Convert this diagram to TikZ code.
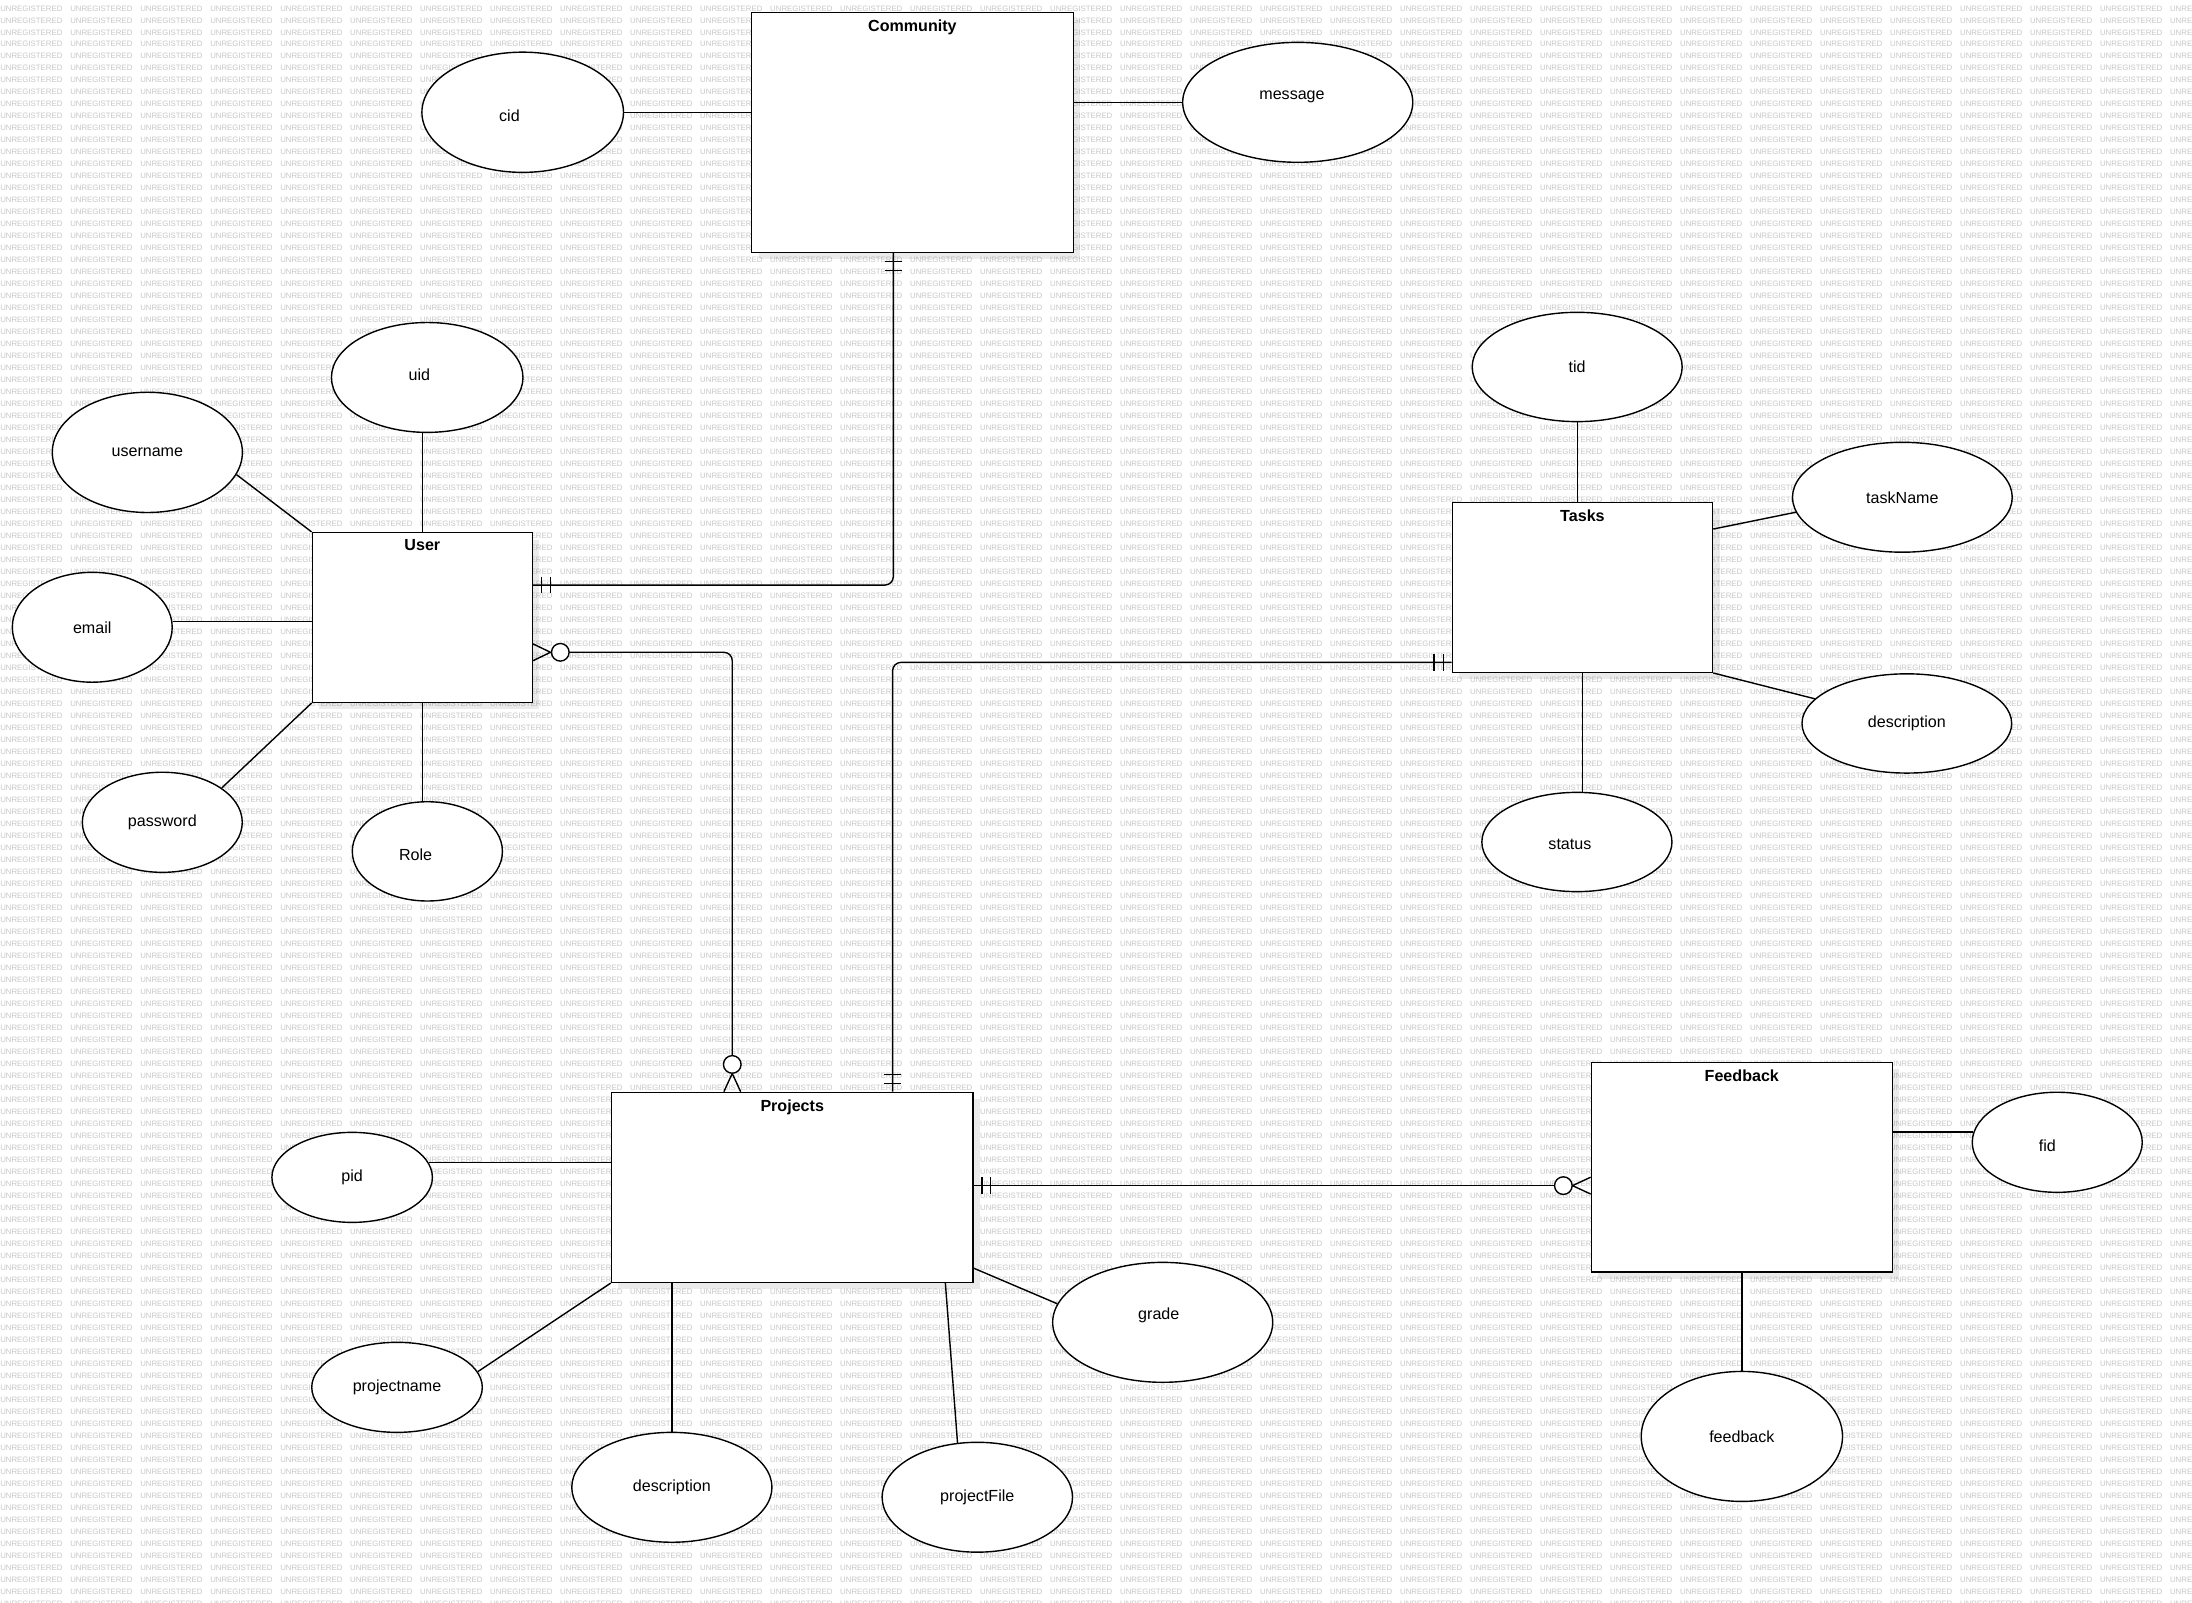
\documentclass[tikz,border=0pt]{standalone}
\usepackage{fontspec}
\setmainfont{Liberation Sans}
\usetikzlibrary{calc,shapes.geometric,shadows}
\newcommand{\wmword}{\makebox[50.07pt][l]{UNREGISTERED}}

\begin{document}
\begin{tikzpicture}[x=1pt,y=-1pt,
  entity/.style={rectangle,draw=black,line width=1pt,fill=white,inner sep=0pt,
    drop shadow={shadow xshift=5pt,shadow yshift=-5pt,fill=black,opacity=0.08}},
  title/.style={anchor=north,yshift=-3pt,font=\bfseries\fontsize{11.5}{13.8}\selectfont},
  attr/.style={ellipse,draw=black,line width=1pt,fill=white,inner sep=0pt},
  link/.style={draw=black,line width=1pt},
  wmark/.style={font=\fontsize{5.6}{6}\selectfont,text=black!22,inner sep=0pt,anchor=west}]
    \tikzstyle{every node}=[font=\fontsize{11.5}{13.8}\selectfont]
    \tikzstyle{every label}=[inner sep=2.5pt]
    % background
    \fill[white] (0,0) rectangle (1568,1146);
    \useasboundingbox (0,0) rectangle (1568,1146);
    \foreach \i in {0,...,133}
      \node[wmark] at (0,{5.95+8.58*\i}) {\foreach \j in {1,...,32}{\wmword}};

    % entities
    \node[entity,minimum width=230.1,minimum height=171.7,
      label={[title]north:Community}] (community) at (652.65,94.65) {};
    \node[entity,minimum width=157.4,minimum height=121.4,
      label={[title]north:User}] (user) at (302.1,441.7) {};
    \node[entity,minimum width=186.1,minimum height=121.6,
      label={[title]north:Tasks}] (tasks) at (1131.95,420.1) {};
    \node[entity,minimum width=258.6,minimum height=135.9,
      label={[title]north:Projects}] (projects) at (566.7,849.35) {};
    \node[entity,minimum width=215.3,minimum height=150.1,
      label={[title]north:Feedback}] (fbox) at (1245.95,834.95) {};

    % attributes
    \node[attr,minimum width=144.2,minimum height=86,
      label={[xshift=-9.5pt,yshift=-2.4pt]center:cid}] (cid) at (373.9,80.3) {};
    \node[attr,minimum width=164.6,minimum height=85.8,
      label={[xshift=-4.1pt,yshift=4pt]center:message}] (message) at (928.3,73.2) {};
    \node[attr,minimum width=137,minimum height=78.6,
      label={[xshift=-5.6pt,yshift=2pt]center:uid}] (uid) at (305.6,270) {};
    \node[attr,minimum width=136,minimum height=86] (username) at (105.4,323.6) {username};
    \node[attr,minimum width=114.4,minimum height=78.6] (email) at (66,448.7) {email};
    \node[attr,minimum width=114.4,minimum height=71.6] (password) at (116.1,588.2) {password};
    \node[attr,minimum width=107.4,minimum height=71,
      label={[xshift=-8.4pt,yshift=-2.6pt]center:Role}] (role) at (305.7,609) {};
    \node[attr,minimum width=150.2,minimum height=78.2] (tid) at (1128.2,262.5) {tid};
    \node[attr,minimum width=157.2,minimum height=78.6] (taskname) at (1360.8,355.7) {taskName};
    \node[attr,minimum width=150,minimum height=71] (tdesc) at (1364,517.5) {description};
    \node[attr,minimum width=136,minimum height=71,
      label={[xshift=-5pt,yshift=-1.7pt]center:status}] (status) at (1128,602.3) {};
    \node[attr,minimum width=114.8,minimum height=64.4] (pid) at (251.9,842.2) {pid};
    \node[attr,minimum width=122,minimum height=64.4] (pname) at (284,992.4) {projectname};
    \node[attr,minimum width=143.2,minimum height=78.6] (pdesc) at (480.6,1063.9) {description};
    \node[attr,minimum width=136.2,minimum height=78.6] (pfile) at (699.1,1071) {projectFile};
    \node[attr,minimum width=157.4,minimum height=85.8,
      label={[xshift=-2.8pt,yshift=4.8pt]center:grade}] (grade) at (831.7,945.9) {};
    \node[attr,minimum width=121.6,minimum height=71.6,
      label={[xshift=-7.1pt,yshift=-2.2pt]center:fid}] (fid) at (1471.6,817.1) {};
    \node[attr,minimum width=144,minimum height=93] (feedback) at (1246,1027.5) {feedback};

    % attribute lines
    \draw[link] (cid.east) -- (cid.east -| community.west);
    \draw[link] (message.west) -- (message.west -| community.east);
    \draw[link] (user.north) -- (user.north |- uid.south);
    \draw[link] (username.-14) -- (user.north west);
    \draw[link] (email.4) -- (email.4 -| user.west);
    \draw[link] (password.30) -- (user.south west);
    \draw[link] (user.south) -- (user.south |- role.north);
    \draw[link] (tid.south) -- (tid.south |- tasks.north);
    \draw[link] (taskname.188) -- (tasks.24);
    \draw[link] (tdesc.165) -- (tasks.south east);
    \draw[link] (tasks.south) -- (tasks.south |- status.north);
    \draw[link] (pid.11) -- (pid.11 -| projects.west);
    \draw[link] (pname.11) -- (projects.south west);
    \draw[link] (pdesc.north) -- (pdesc.north |- projects.south);
    \draw[link] (pfile.110) -- (projects.-32.5);
    \draw[link] (grade.170) -- (projects.-24);
    \draw[link] (fid.173) -- (fid.173 -| fbox.east);
    \draw[link] (feedback.north) -- (feedback.north |- fbox.south);

    % Community -- User
    \coordinate (r1a) at ([xshift=-13.65pt]community.south);
    \coordinate (r1b) at ([yshift=23.2pt]user.east);
    \draw[link,rounded corners=6pt] (r1a) |- (r1b);
    \foreach \d in {6,12.5} {
      \draw[link] ($(r1a)+(-6.3,\d)$) -- ++(12.6,0);
      \draw[link] ($(r1b)+(\d,-6)$) -- ++(0,12);
    }

    % User -- Projects
    \coordinate (r2a) at ([yshift=-24.9pt]user.east);
    \coordinate (r2b) at ([xshift=-42.9pt]projects.north);
    \draw[link,rounded corners=6pt,shorten <=25.8pt,shorten >=25.8pt] (r2a) -| (r2b);
    \draw[link] ($(r2a)+(0,-6)$) -- ++(12.5,6) -- ++(-12.5,6);
    \draw[link,fill=white] ($(r2a)+(19.5,0)$) circle[radius=6.3pt];
    \draw[link] ($(r2b)+(-6,0)$) -- ++(6,-13) -- ++(6,13);
    \draw[link,fill=white] ($(r2b)+(0,-19.5)$) circle[radius=6.3pt];

    % Tasks -- Projects
    \coordinate (r3a) at ([yshift=-53.7pt]tasks.west);
    \coordinate (r3b) at ([xshift=71.8pt]projects.north);
    \draw[link,rounded corners=6pt] (r3a) -| (r3b);
    \foreach \d in {6,12.5} {
      \draw[link] ($(r3a)+(-\d,-6)$) -- ++(0,12);
      \draw[link] ($(r3b)+(-6,-\d)$) -- ++(12,0);
    }

    % Projects -- Feedback
    \coordinate (r4a) at ([yshift=1.25pt]projects.east);
    \coordinate (r4b) at (r4a -| fbox.west);
    \draw[link,shorten >=25.8pt] (r4a) -- (r4b);
    \foreach \d in {6,12} \draw[link] ($(r4a)+(\d,-6)$) -- ++(0,12);
    \draw[link] ($(r4b)+(0,-6)$) -- ++(-13,6) -- ++(13,6);
    \draw[link,fill=white] ($(r4b)+(-19.5,0)$) circle[radius=6.3pt];
\end{tikzpicture}
\end{document}
